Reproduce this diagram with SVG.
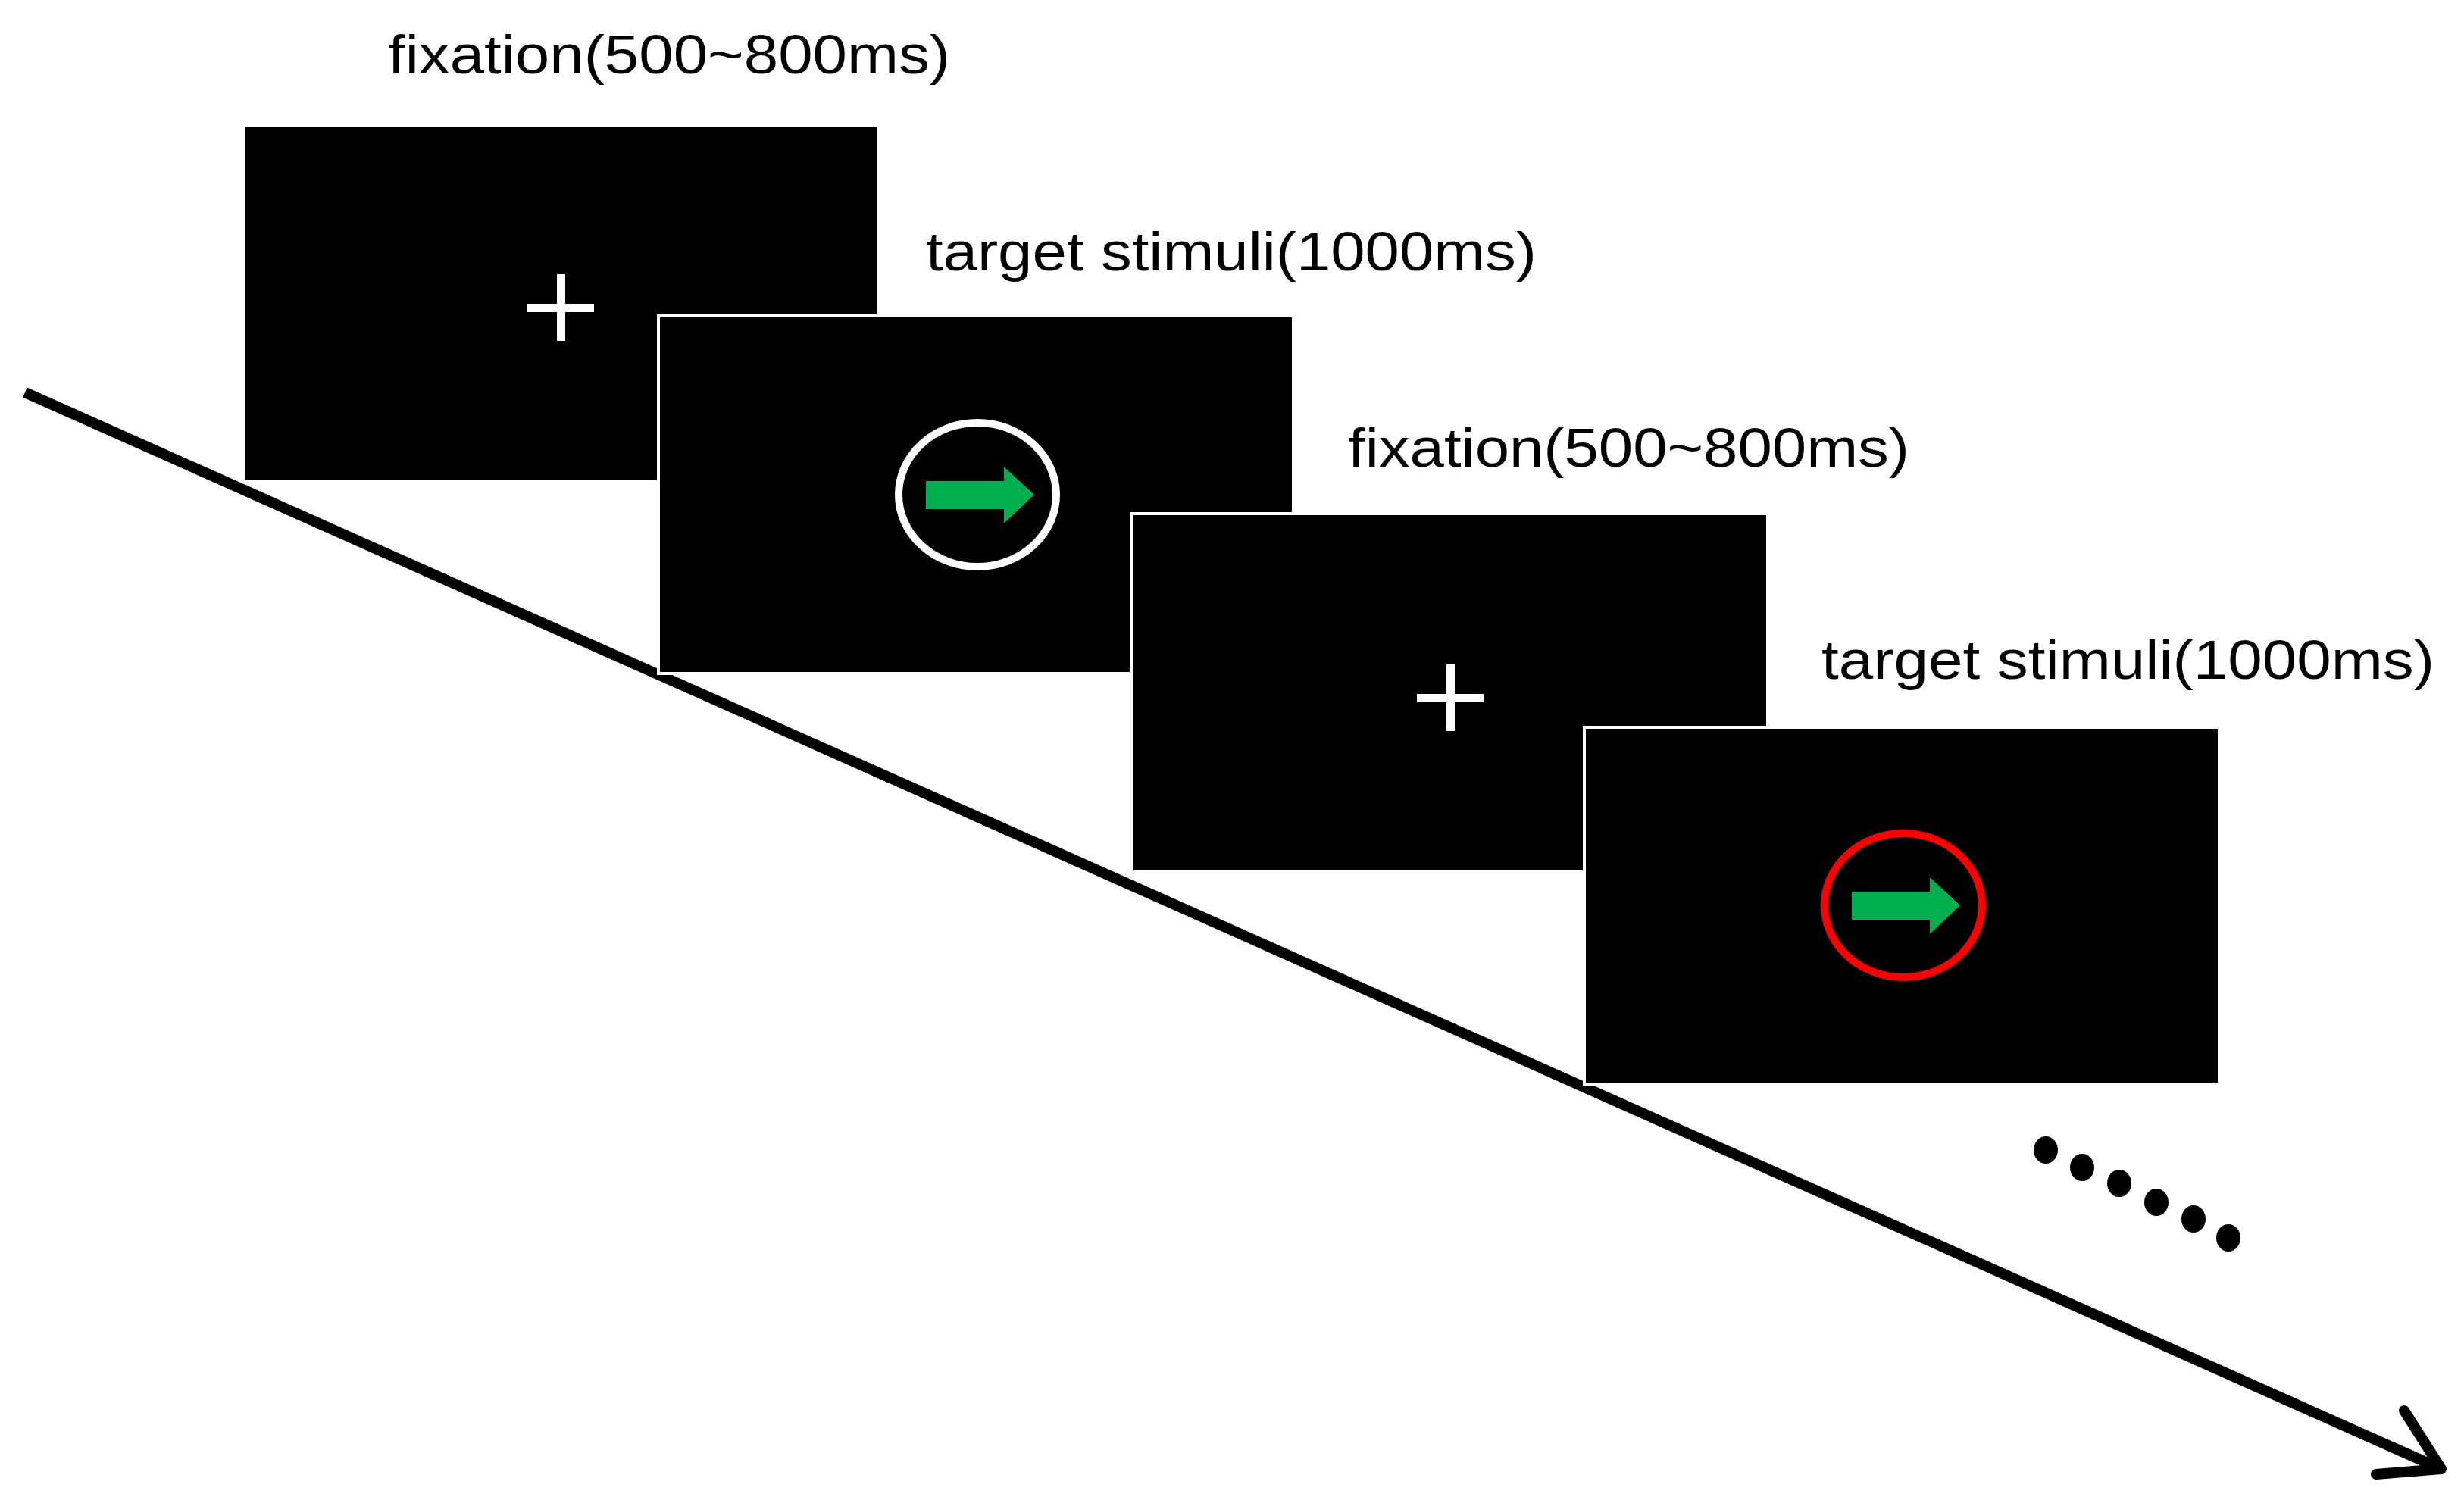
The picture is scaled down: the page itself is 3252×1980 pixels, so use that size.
<svg xmlns="http://www.w3.org/2000/svg" width="3252" height="1980" viewBox="0 0 3252 1980">
<style>
.scr{fill:#000;stroke:#fff;stroke-width:4}
.lbl{font-family:"Liberation Sans",Arial,sans-serif;font-size:72px;fill:#000}
.cross{fill:#fff}
.arrow{fill:#00b050}
.dot{fill:#000}
</style>
<rect width="3252" height="1980" fill="#fff"/>
<g id="connectors">
<line x1="33" y1="518" x2="3215" y2="1936" stroke="#000" stroke-width="14"/>
<polyline points="3173,1862 3222,1939 3136,1946" fill="none" stroke="#000" stroke-width="14" stroke-linecap="round" stroke-linejoin="round"/>
</g>
<g id="fix1">
<rect class="scr" x="321" y="166" width="838" height="470"/>
<rect class="cross" x="696" y="401" width="88" height="11"/>
<rect class="cross" x="735" y="362" width="11" height="88"/>
<text class="lbl" x="512" y="97" textLength="742" lengthAdjust="spacingAndGlyphs">fixation(500~800ms)</text>
</g>
<g id="target1">
<rect class="scr" x="869" y="417" width="838" height="472"/>
<ellipse cx="1290" cy="653" rx="104" ry="95" fill="none" stroke="#fff" stroke-width="10"/>
<polygon class="arrow" points="1222,635 1325,635 1325,616 1365,653 1325,691 1325,672 1222,672"/>
<text class="lbl" x="1222" y="357" textLength="806" lengthAdjust="spacingAndGlyphs">target stimuli(1000ms)</text>
</g>
<g id="fix2">
<rect class="scr" x="1493" y="678" width="840" height="473"/>
<rect class="cross" x="1870" y="916" width="88" height="11"/>
<rect class="cross" x="1909" y="877" width="11" height="88"/>
<text class="lbl" x="1779" y="616" textLength="741" lengthAdjust="spacingAndGlyphs">fixation(500~800ms)</text>
</g>
<g id="target2">
<rect class="scr" x="2091" y="960" width="838" height="471"/>
<ellipse cx="2512" cy="1195" rx="104" ry="95" fill="none" stroke="#f00" stroke-width="10"/>
<polygon class="arrow" points="2444,1177 2547,1177 2547,1158 2587,1195 2547,1233 2547,1214 2444,1214"/>
<text class="lbl" x="2404" y="896" textLength="809" lengthAdjust="spacingAndGlyphs">target stimuli(1000ms)</text>
</g>
<g id="ellipsis">
<ellipse class="dot" cx="2700" cy="1518" rx="16" ry="18"/>
<ellipse class="dot" cx="2748" cy="1541" rx="16" ry="18"/>
<ellipse class="dot" cx="2797" cy="1562" rx="16" ry="18"/>
<ellipse class="dot" cx="2846" cy="1587" rx="16" ry="18"/>
<ellipse class="dot" cx="2895" cy="1609" rx="16" ry="18"/>
<ellipse class="dot" cx="2941" cy="1634" rx="16" ry="18"/>
</g>
</svg>
